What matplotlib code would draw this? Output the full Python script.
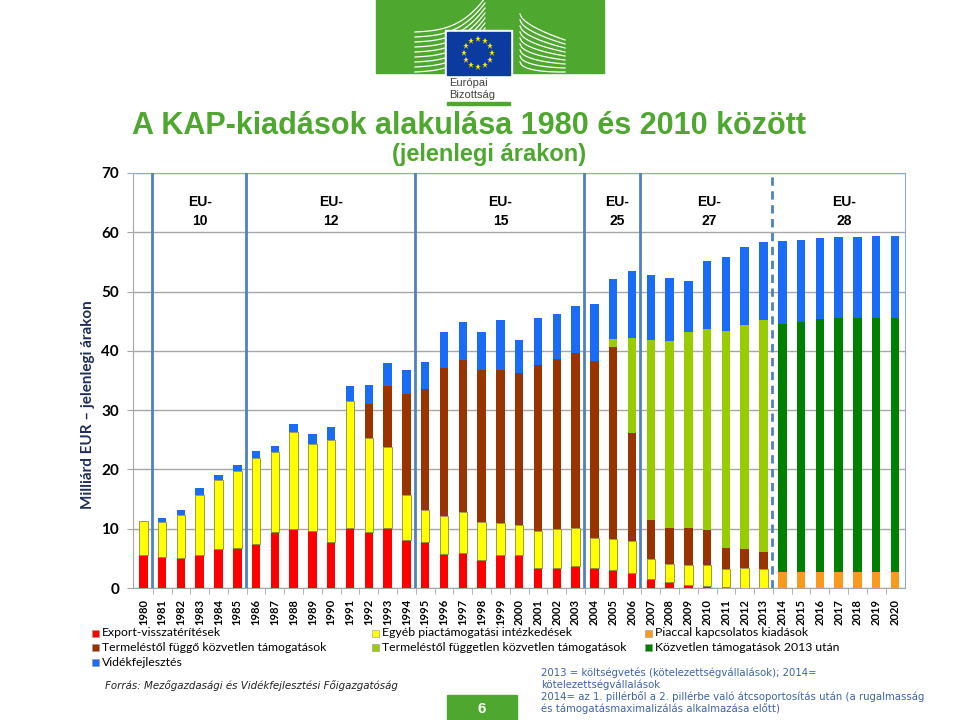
import matplotlib
matplotlib.use("Agg")
import matplotlib.pyplot as plt
import numpy as np
from matplotlib import font_manager as fm
from matplotlib.patches import Rectangle

names = {f.name for f in fm.fontManager.ttflist}
narrow = 'Liberation Sans Narrow' if 'Liberation Sans Narrow' in names else 'Liberation Sans'

years = list(range(1980, 2021))

# Export-visszatérítések
export = [5.6, 5.2, 5.05, 5.5, 6.6, 6.75, 7.4, 9.4, 9.95, 9.65,
          7.7, 10.05, 9.5, 10.1, 8.1, 7.75, 5.7, 5.9, 4.8, 5.6,
          5.6, 3.4, 3.4, 3.7, 3.4, 3.0, 2.5, 1.5, 0.95, 0.55,
          0.35, 0.1, 0, 0, 0, 0, 0, 0, 0, 0, 0]
# Egyéb piactámogatási intézkedések
egyeb = [5.75, 5.9, 7.25, 10.2, 11.7, 12.95, 14.6, 13.5, 16.35, 14.65,
         17.3, 21.45, 15.8, 13.6, 7.6, 5.35, 6.5, 7.0, 6.4, 5.4,
         5.1, 6.25, 6.55, 6.35, 5.0, 5.3, 5.5, 3.4, 3.15, 3.35,
         3.55, 3.15, 3.4, 3.2, 0, 0, 0, 0, 0, 0, 0]
# Piaccal kapcsolatos kiadások
piac = [0] * 34 + [2.65, 2.7, 2.7, 2.7, 2.7, 2.7, 2.7]
# Termeléstől függő közvetlen támogatások
fuggo = [0] * 12 + [5.8, 10.3, 17.05, 20.4, 24.9, 25.6, 25.6, 25.8,
                    25.5, 27.95, 28.75, 29.65, 29.9, 32.3, 18.1, 6.6, 6.1, 6.3,
                    5.9, 3.45, 3.2, 2.9] + [0] * 7
# Termeléstől független közvetlen támogatások
fuggetlen = [0] * 25 + [1.4, 16.0, 30.35, 31.5, 32.9, 33.85, 36.7, 37.7, 39.1] + [0] * 7
# Közvetlen támogatások 2013 után
kozvetlen = [0] * 34 + [41.85, 42.2, 42.6, 42.8, 42.8, 42.8, 42.8]
# Vidékfejlesztés
videk = [0, 0.75, 0.8, 1.1, 0.7, 1.0, 1.1, 1.1, 1.3, 1.6,
         2.1, 2.5, 3.1, 3.9, 3.95, 4.65, 6.0, 6.3, 6.3, 8.4,
         5.65, 8.0, 7.6, 7.9, 9.6, 10.2, 11.4, 10.95, 10.6, 8.75,
         11.55, 12.5, 13.3, 13.1, 14.0, 13.8, 13.7, 13.7, 13.7, 13.8, 13.8]

series = [
    ("Export-visszatérítések", export, '#FF0000'),
    ("Egyéb piactámogatási intézkedések", egyeb, '#FFFF00'),
    ("Piaccal kapcsolatos kiadások", piac, '#F79A1E'),
    ("Termeléstől függő közvetlen támogatások", fuggo, '#993300'),
    ("Termeléstől független közvetlen támogatások", fuggetlen, '#99CC00'),
    ("Közvetlen támogatások 2013 után", kozvetlen, '#008000'),
    ("Vidékfejlesztés", videk, '#1A6BF5'),
]

# enlargement boundaries
boundaries = [1980.45, 1985.45, 1994.45, 2003.45, 2006.45]
dashed_boundary = 2013.45
eu_labels = ["EU-\n10", "EU-\n12", "EU-\n15", "EU-\n25", "EU-\n27", "EU-\n28"]
eu_pos = [1983.0, 1990.0, 1999.0, 2005.2, 2010.1, 2017.3]

W, H = 960, 720
fig = plt.figure(figsize=(9.6, 7.2), dpi=100)


def fx(x):
    return x / W


def fy(y):
    return 1 - y / H


ax = fig.add_axes([fx(133), fy(588), (905 - 133) / W, (588 - 173) / H])

bottom = np.zeros(len(years))
for label, vals, col in series:
    vals = np.array(vals, dtype=float)
    ec = '#8C8C3C' if col == '#FFFF00' else 'none'
    ax.bar(years, vals, width=0.45, bottom=bottom, color=col, edgecolor=ec,
           linewidth=0.6, zorder=3)
    bottom += vals

ax.set_xlim(1979.45, 2020.53)
ax.set_ylim(0, 70)
ax.set_yticks(range(0, 71, 10))
ax.yaxis.grid(True, color='#A6A6A6', linewidth=1.0, zorder=0)
for s in ['top', 'right', 'left', 'bottom']:
    ax.spines[s].set_color('#A6A6A6')
ax.spines['top'].set_color('#8EA9CF')
ax.spines['right'].set_color('#8EA9CF')

for b in boundaries:
    ax.axvline(b, color='#4F81BD', linewidth=2.0, zorder=4)
ax.axvline(dashed_boundary, color='#4F81BD', linewidth=2.0, linestyle=(0, (3, 2)), zorder=4)

for lab, p in zip(eu_labels, eu_pos):
    ax.text(p, 63.5, lab, ha='center', va='center', fontsize=10,
            fontweight='bold', family='Liberation Sans', linespacing=1.5)

ax.set_xticks(years)
ax.set_xticklabels([str(y) for y in years], rotation=90, fontsize=8,
                   fontweight='bold', family='Lato')
ax.set_xticks(np.array(years[:-1]) + 0.5, minor=True)
ax.tick_params(axis='x', which='major', length=0, pad=8)
ax.tick_params(axis='x', which='minor', length=4, color='#A6A6A6')
ax.tick_params(axis='y', length=4, color='#A6A6A6', pad=6)
for t in ax.get_yticklabels():
    t.set_fontsize(11)
    t.set_fontweight('bold')
    t.set_family('Lato')

fig.text(fx(88), fy(405), "Milliárd EUR – jelenlegi árakon", rotation=90,
         ha='center', va='center', fontsize=11, fontweight='bold',
         family='Lato', color='#1F2D5A')

# title
green = '#4EA72E'
fig.text(fx(469), fy(126), "A KAP-kiadások alakulása 1980 és 2010 között",
         ha='center', va='center', fontsize=22, fontweight='bold',
         family=narrow, color=green)
fig.text(fx(489), fy(155), "(jelenlegi árakon)", ha='center', va='center',
         fontsize=17, fontweight='bold', family=narrow, color=green)

# logo
fig.patches.append(Rectangle((fx(376), fy(73)), (604 - 376) / W, 73 / H,
                             transform=fig.transFigure, color=green, zorder=1))
for k in range(9):
    t = np.linspace(0, 1, 30)
    xs = 415 + 70 * t
    ys = 72 - k * 5 - 30 * t ** 3 - 4 * t
    fig.lines.append(plt.Line2D(fx(xs), fy(ys), transform=fig.transFigure,
                                color='white', linewidth=0.9, zorder=2))
    xr = 520 + 45 * t
    yr = 14 + k * 6 + 26 * t ** 0.6 - k * 2 * t
    fig.lines.append(plt.Line2D(fx(xr), fy(yr), transform=fig.transFigure,
                                color='white', linewidth=0.9, zorder=2))
fig.patches.append(Rectangle((fx(445), fy(104)), 67 / W, 74 / H,
                             transform=fig.transFigure, color='white', zorder=3))
fig.patches.append(Rectangle((fx(447), fy(75)), 63 / W, 43 / H,
                             transform=fig.transFigure, color='#0B3B9E', zorder=4))
ang = np.linspace(0, 2 * np.pi, 13)[:-1]
fig.lines.append(plt.Line2D(fx(478 + 14 * np.cos(ang)), fy(53 + 14 * np.sin(ang)),
                            transform=fig.transFigure, linestyle='none',
                            marker='*', markersize=4.5, color='#FFE800',
                            markeredgewidth=0, zorder=5))
fig.text(fx(449), fy(89), "Európai\nBizottság", ha='left', va='center',
         fontsize=8, color='#444444', family='Liberation Sans', zorder=5,
         linespacing=1.25)
fig.patches.append(Rectangle((fx(447), fy(105)), 63 / W, 3 / H,
                             transform=fig.transFigure, color=green, zorder=5))

# legend
leg_x = [95, 375, 648]
leg_rows = [633, 647.5, 662]
order = [(0, 0, 0), (1, 1, 0), (2, 2, 0), (3, 0, 1), (4, 1, 1), (5, 2, 1), (6, 0, 2)]
for idx, c, r in order:
    label, _, col = series[idx]
    x0, y0 = leg_x[c], leg_rows[r]
    fig.patches.append(Rectangle((fx(x0 - 3.5), fy(y0 + 3.5)), 7 / W, 7 / H,
                                 transform=fig.transFigure, facecolor=col,
                                 edgecolor='#999999', linewidth=0.4))
    fig.text(fx(x0 + 7), fy(y0), label, ha='left', va='center', fontsize=8.8,
             family='Lato', color='black')

fig.text(fx(105), fy(686), "Forrás: Mezőgazdasági és Vidékfejlesztési Főigazgatóság",
         ha='left', va='center', fontsize=7.4, style='italic',
         family='DejaVu Sans', color='#222222')

fig.patches.append(Rectangle((fx(447), fy(720)), 70 / W, 25 / H,
                             transform=fig.transFigure, color=green))
fig.text(fx(482), fy(709), "6", ha='center', va='center', fontsize=11,
         fontweight='bold', color='white', family='Liberation Sans')

notes = ("2013 = költségvetés (kötelezettségvállalások); 2014=\n"
         "kötelezettségvállalások\n"
         "2014= az 1. pillérből a 2. pillérbe való átcsoportosítás után (a rugalmasság\n"
         "és támogatásmaximalizálás alkalmazása előtt)")
fig.text(fx(541), fy(691), notes, ha='left', va='center', fontsize=7.3,
         family='DejaVu Sans', color='#3D62B0', linespacing=1.15)

fig.savefig("out.png", dpi=100)
